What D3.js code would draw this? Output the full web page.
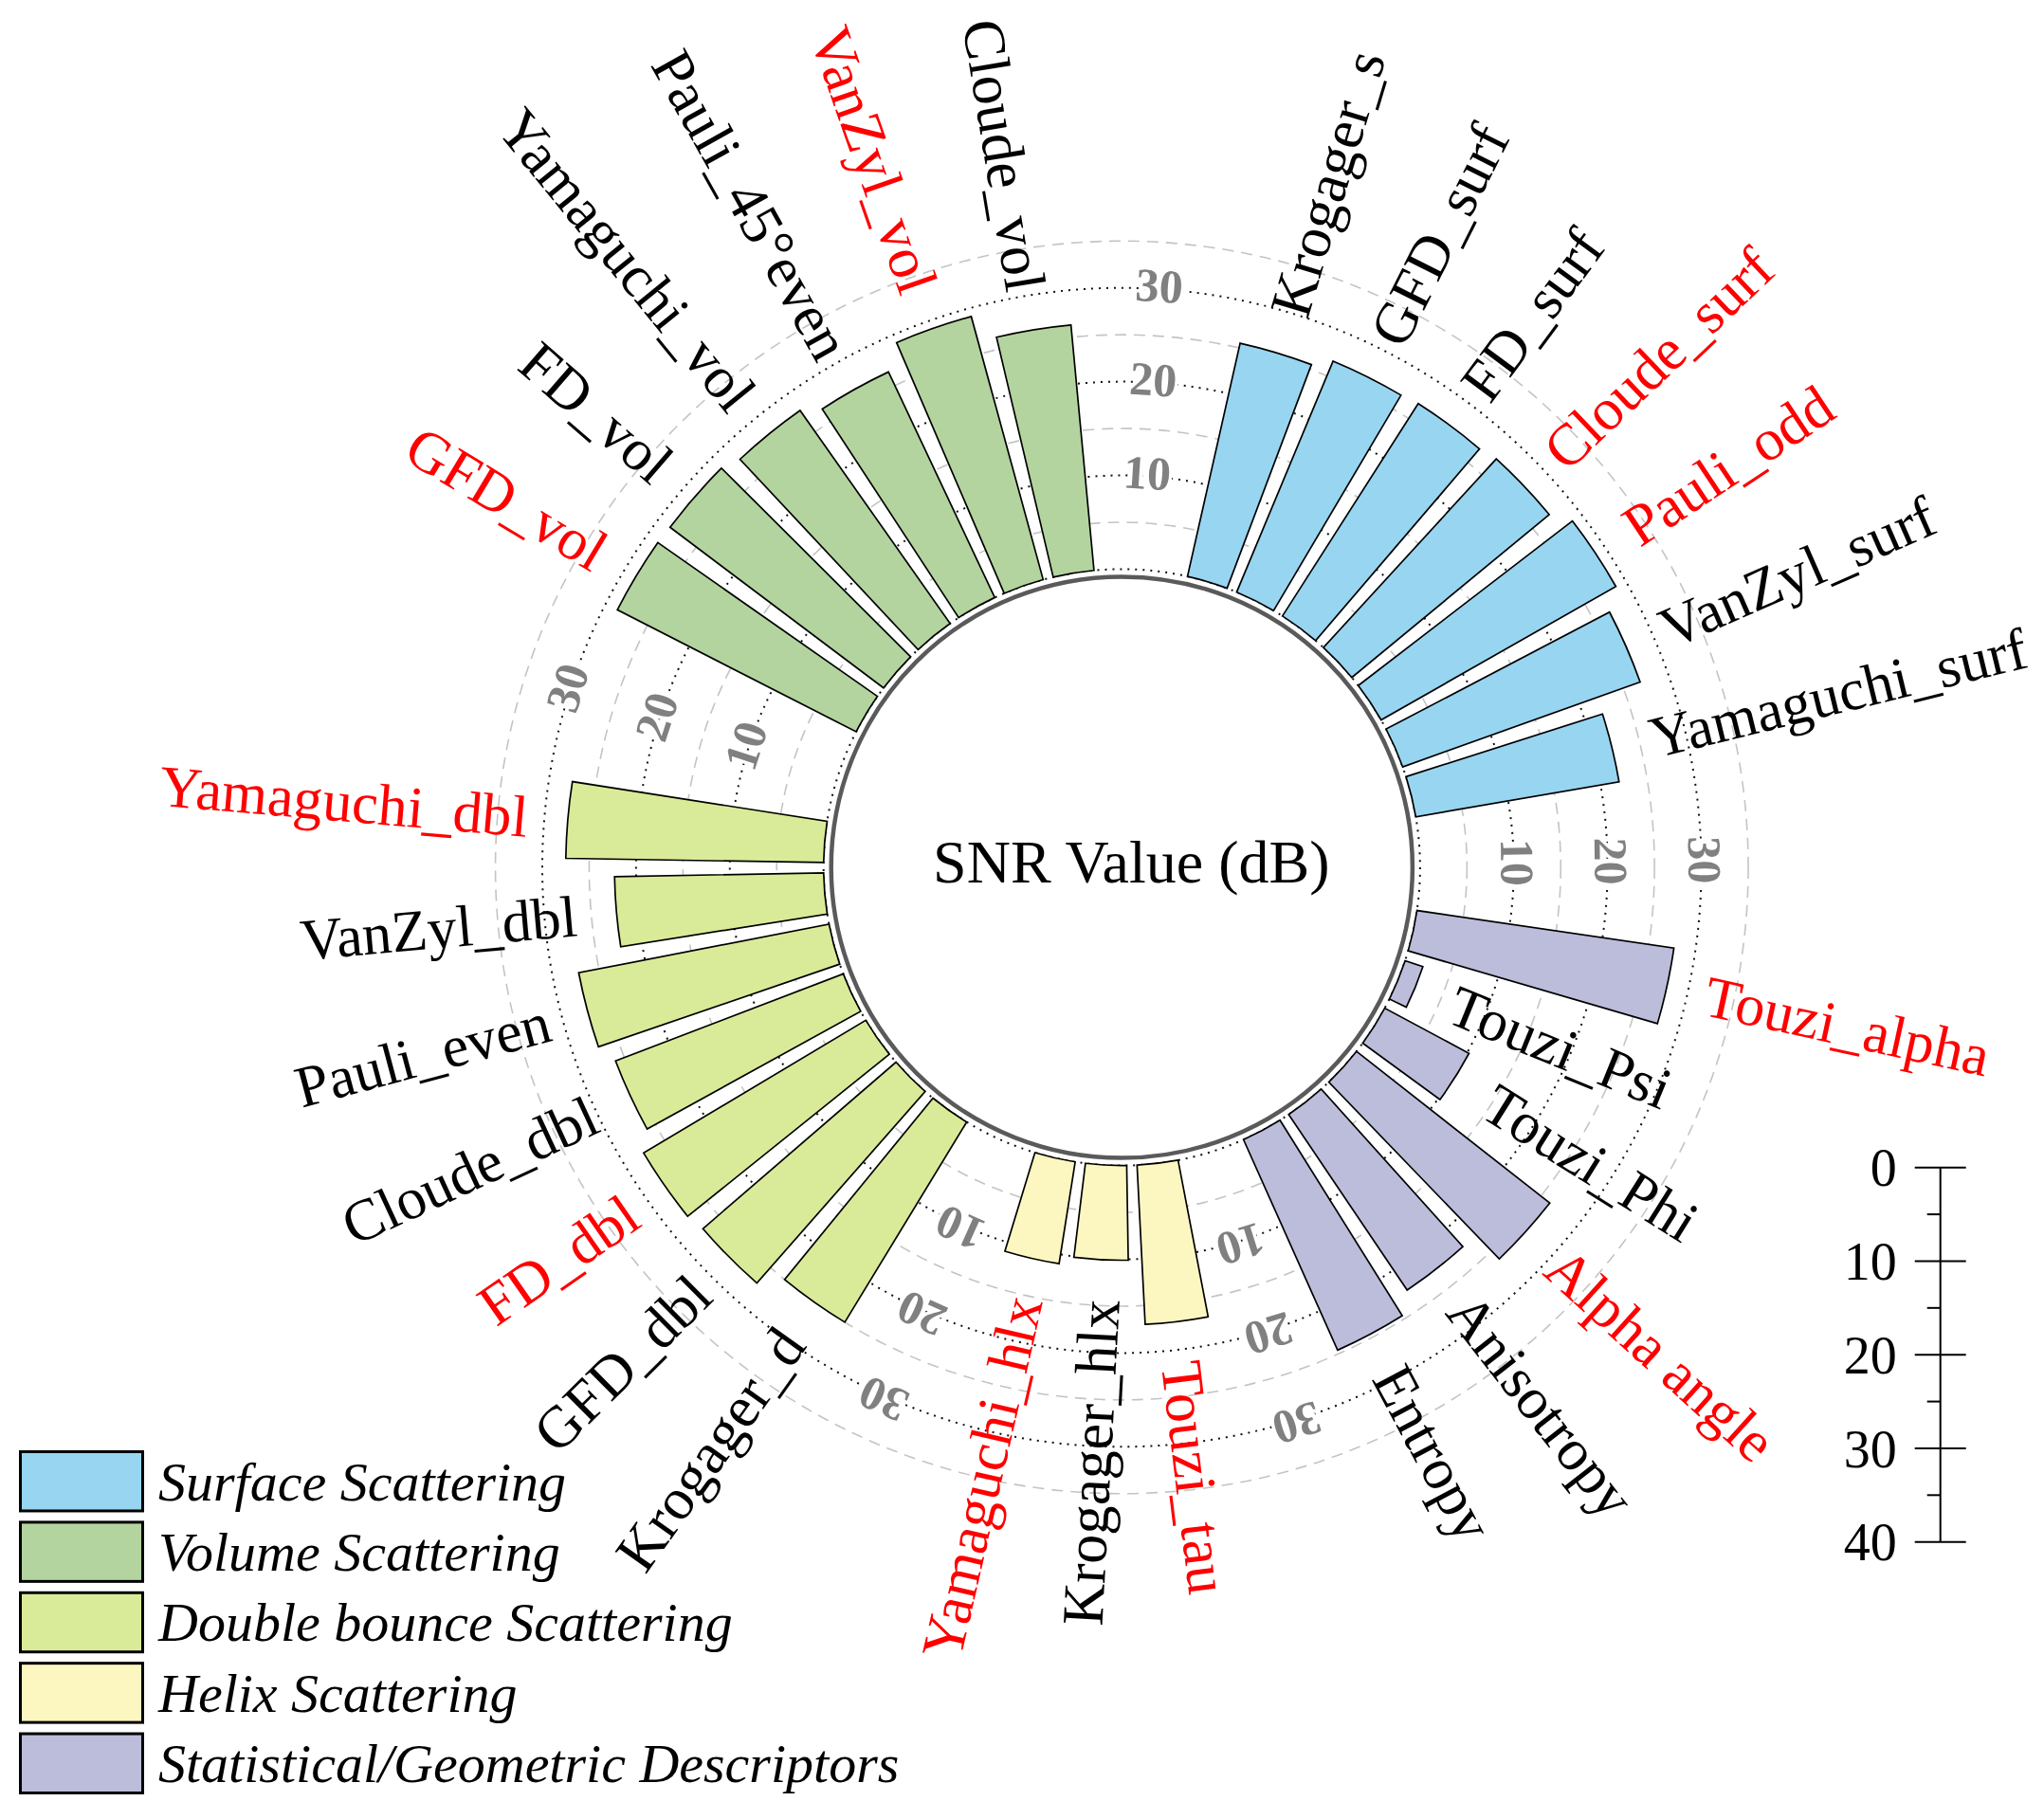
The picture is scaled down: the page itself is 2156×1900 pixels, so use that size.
<!DOCTYPE html>
<html>
<head>
<meta charset="utf-8">
<script src="https://cdn.jsdelivr.net/npm/d3@7"></script>
<style>
  html, body { margin: 0; padding: 0; background: #fff; }
  svg { display: block; }
</style>
</head>
<body>
<div id="chart"></div>
<script>
// ---------------- DATA ----------------
const groupNames = ["Surface Scattering", "Volume Scattering", "Double bounce Scattering", "Helix Scattering", "Statistical/Geometric Descriptors"];

// clockwise order around the circle, starting at the top-right
const surfaceCats = ["Krogager_s", "GFD_surf", "FD_surf", "Cloude_surf", "Pauli_odd", "VanZyl_surf", "Yamaguchi_surf"];
const surfaceVals = [25.5, 26.7, 26.9, 27.3, 28.8, 26.9, 22.0];

const statCats = ["Touzi_alpha", "Touzi_Psi", "Touzi_Phi", "Alpha angle", "Anisotropy", "Entropy"];
const statVals = [27.7, 2.0, 10.2, 26.2, 22.6, 24.6];

const helixCats = ["Touzi_tau", "Krogager_hlx", "Yamaguchi_hlx"];
const helixVals = [17.0, 10.1, 11.0];

const doubleCats = ["Krogager_d", "GFD_dbl", "FD_dbl", "Cloude_dbl", "Pauli_even", "VanZyl_dbl", "Yamaguchi_dbl"];
const doubleVals = [25.0, 27.2, 27.6, 26.0, 27.2, 22.3, 27.5];

const volumeCats = ["GFD_vol", "FD_vol", "Yamaguchi_vol", "Pauli_45°even", "VanZyl_vol", "Cloude_vol"];
const volumeVals = [28.6, 28.5, 27.8, 26.6, 29.1, 26.3];

const highlighted = ["Cloude_surf", "Pauli_odd", "Touzi_alpha", "Alpha angle", "Touzi_tau", "Yamaguchi_hlx", "FD_dbl", "Yamaguchi_dbl", "VanZyl_vol", "GFD_vol"];

const radialTicks = [10, 20, 30];
const dottedRings = [0, 10, 20, 30];
const dashedRings = [5, 15, 25, 35];
const scaleBarTicks = [0, 10, 20, 30, 40];
const scaleBarMinor = [5, 15, 25, 35];

// ---------------- STYLE / LAYOUT ----------------
const W = 2156, H = 1900;
const cx = 1183.3, cy = 915;
const colors = {
  "Surface Scattering": "#98d5f0",
  "Volume Scattering": "#b3d49f",
  "Double bounce Scattering": "#d9eb98",
  "Helix Scattering": "#fcf7c0",
  "Statistical/Geometric Descriptors": "#bbbddb"
};
// groups in clockwise order with the centre-to-centre distance (bar units) to the next group
const ring = [
  { name: "Surface Scattering", cats: surfaceCats, vals: surfaceVals, gapAfter: 2.62 },
  { name: "Statistical/Geometric Descriptors", cats: statCats, vals: statVals, gapAfter: 2.13 },
  { name: "Helix Scattering", cats: helixCats, vals: helixVals, gapAfter: 2.25 },
  { name: "Double bounce Scattering", cats: doubleCats, vals: doubleVals, gapAfter: 2.63 },
  { name: "Volume Scattering", cats: volumeCats, vals: volumeVals, gapAfter: 2.62 }
];
const startDeg = 16.69;
const font = "'Liberation Serif', 'Times New Roman', serif";

// build bar records with a positional index
const bars = [];
const gapCenters = [];
let pos = 0;
ring.forEach(g => {
  g.cats.forEach((c, i) => {
    bars.push({ cat: c, value: g.vals[i], group: g.name, pos: pos });
    if (i < g.cats.length - 1) pos += 1;
  });
  gapCenters.push(pos + g.gapAfter / 2);
  pos += g.gapAfter;
});
const totalUnits = pos;

const angle = d3.scaleLinear().domain([0, totalUnits])
  .range([startDeg * Math.PI / 180, startDeg * Math.PI / 180 + 2 * Math.PI]);
const unitRad = angle(1) - angle(0);
const halfW = unitRad * 0.4;
const rScale = d3.scaleLinear().domain([0, 40]).range([314.6, 314.6 + 395.6]);
const deg = r => r * 180 / Math.PI;

const svg = d3.select("#chart").append("svg")
  .attr("width", W).attr("height", H)
  .attr("viewBox", `0 0 ${W} ${H}`);
svg.append("rect").attr("width", W).attr("height", H).attr("fill", "#fff");

const g = svg.append("g").attr("transform", `translate(${cx},${cy})`);

// grid rings
g.selectAll("circle.dashed").data(dashedRings).join("circle")
  .attr("class", "dashed")
  .attr("r", d => rScale(d))
  .attr("fill", "none").attr("stroke", "#c4c4c4")
  .attr("stroke-width", 1.6).attr("stroke-dasharray", "12,8");
g.selectAll("circle.dotted").data(dottedRings).join("circle")
  .attr("class", "dotted")
  .attr("r", d => rScale(d))
  .attr("fill", "none").attr("stroke", "#111")
  .attr("stroke-width", 2).attr("stroke-dasharray", "2,6");

// bars
const arc = d3.arc()
  .innerRadius(rScale(0))
  .outerRadius(d => rScale(d.value))
  .startAngle(d => angle(d.pos) - halfW)
  .endAngle(d => angle(d.pos) + halfW);
g.selectAll("path.bar").data(bars).join("path")
  .attr("class", "bar")
  .attr("d", arc)
  .attr("fill", d => colors[d.group])
  .attr("stroke", "#000").attr("stroke-width", 1.7)
  .attr("stroke-linejoin", "miter");

// inner circle
g.append("circle").attr("r", 306.6)
  .attr("fill", "#fff").attr("stroke", "#5a5a5a").attr("stroke-width", 4.5);
g.append("text")
  .attr("x", 10).attr("y", 16)
  .attr("text-anchor", "middle")
  .attr("font-family", font).attr("font-size", 64)
  .attr("fill", "#000")
  .text("SNR Value (dB)");

// radial tick labels in every gap
const tickData = [];
gapCenters.forEach(gc => radialTicks.forEach(t => tickData.push({ a: deg(angle(gc)), t })));
g.selectAll("text.tick").data(tickData).join("text")
  .attr("class", "tick")
  .attr("transform", d => `rotate(${d.a}) translate(0,${-rScale(d.t) - 4})`)
  .attr("text-anchor", "middle")
  .attr("dy", "0.35em")
  .attr("font-family", font).attr("font-size", 50).attr("font-weight", "bold")
  .attr("fill", "#808080")
  .attr("stroke", "#fff").attr("stroke-width", 7).attr("paint-order", "stroke")
  .text(d => d.t);

// category labels
g.selectAll("text.cat").data(bars).join("text")
  .attr("class", "cat")
  .attr("transform", d => {
    const a = deg(angle(d.pos)) % 360;
    const r = rScale(d.value) + 42;
    return a < 180
      ? `rotate(${a - 90}) translate(${r},0)`
      : `rotate(${a + 90}) translate(${-r},0)`;
  })
  .attr("text-anchor", d => (deg(angle(d.pos)) % 360) < 180 ? "start" : "end")
  .attr("dy", "0.35em")
  .attr("font-family", font).attr("font-size", 62)
  .attr("fill", d => highlighted.includes(d.cat) ? "#ff0000" : "#000")
  .text(d => d.cat);

// legend
const legend = svg.append("g").attr("transform", "translate(20,1530)");
const legendY = d3.scaleBand().domain(groupNames).range([0, 363]).paddingInner(0.12).paddingOuter(0);
const li = legend.selectAll("g.li").data(groupNames).join("g")
  .attr("class", "li")
  .attr("transform", d => `translate(0,${legendY(d)})`);
li.append("rect")
  .attr("x", 1.5).attr("y", 1.5)
  .attr("width", 129).attr("height", legendY.bandwidth() - 3)
  .attr("fill", d => colors[d]).attr("stroke", "#000").attr("stroke-width", 3);
li.append("text")
  .attr("x", 147).attr("y", legendY.bandwidth() / 2 + 20)
  .attr("font-family", font).attr("font-style", "italic").attr("font-size", 58)
  .attr("fill", "#000")
  .text(d => d);

// scale bar at the right
const sb = svg.append("g").attr("transform", "translate(2046.7,0)");
const sbY = d3.scaleLinear().domain([0, 40]).range([1231.7, 1626.7]);
sb.append("line").attr("x1", 0).attr("x2", 0)
  .attr("y1", sbY(0)).attr("y2", sbY(40))
  .attr("stroke", "#000").attr("stroke-width", 2);
sb.selectAll("line.major").data(scaleBarTicks).join("line")
  .attr("class", "major")
  .attr("x1", -27).attr("x2", 27)
  .attr("y1", d => sbY(d)).attr("y2", d => sbY(d))
  .attr("stroke", "#000").attr("stroke-width", 2);
sb.selectAll("line.minor").data(scaleBarMinor).join("line")
  .attr("class", "minor")
  .attr("x1", -14).attr("x2", 0)
  .attr("y1", d => sbY(d)).attr("y2", d => sbY(d))
  .attr("stroke", "#000").attr("stroke-width", 2);
sb.selectAll("text.sbl").data(scaleBarTicks).join("text")
  .attr("class", "sbl")
  .attr("x", -46).attr("y", d => sbY(d))
  .attr("dy", "0.35em")
  .attr("text-anchor", "end")
  .attr("font-family", font).attr("font-size", 56)
  .attr("fill", "#000")
  .text(d => d);
</script>
</body>
</html>
